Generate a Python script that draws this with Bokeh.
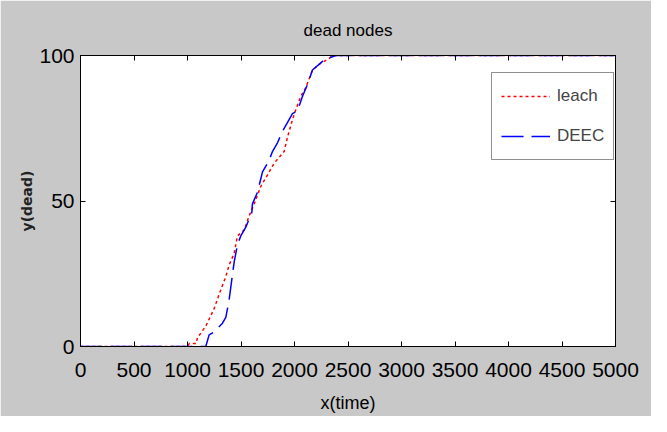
from bokeh.plotting import figure
from bokeh.models import LinearAxis, FixedTicker, Legend, LegendItem, Range1d
from bokeh.embed import file_html
from bokeh.resources import INLINE

# data
leach_x = [0, 1000, 1016, 1080, 1093, 1171, 1249, 1296, 1358, 1389, 1436, 1467, 1530,
           1577, 1623, 1685, 1748, 1810, 1903, 1935, 1981, 2028, 2059, 2106, 2168,
           2231, 2324, 2355, 5000]
leach_y = [0, 0, 1, 1, 3, 7, 13, 18, 24, 28, 32, 38, 40, 45, 49, 55, 59, 63, 67, 72,
           78, 83, 86, 89, 95, 97, 99, 100, 100]
deec_x = [0, 1171, 1202, 1249, 1327, 1358, 1389, 1414, 1436, 1467, 1498, 1545, 1601,
          1607, 1654, 1701, 1763, 1794, 1841, 1888, 1935, 1981, 2028, 2075, 2121,
          2168, 2262, 2308, 2386, 2400, 5000]
deec_y = [0, 0, 4, 5, 8, 10, 16, 23, 29, 35, 38, 41, 46, 49, 53, 60, 64, 67, 70, 74,
          77, 80, 81, 86, 90, 95, 98, 99, 100, 100, 100]
x_ticks = [0, 500, 1000, 1500, 2000, 2500, 3000, 3500, 4000, 4500, 5000]
y_ticks = [0, 50, 100]

FONT = "Liberation Sans"
GRAY = "#c8c8c8"

p = figure(width=651, height=416, output_backend="svg", toolbar_location=None,
           x_range=Range1d(0, 5000), y_range=Range1d(0, 100),
           min_border_left=80, min_border_right=36, min_border_top=55,
           min_border_bottom=70, background_fill_color="white",
           border_fill_color=GRAY, outline_line_color="black", outline_line_width=1)
p.grid.visible = False

p.title.text = "dead nodes"
p.title.align = "center"
p.title.text_font = FONT
p.title.text_font_size = "17px"
p.title.text_font_style = "normal"
p.title.text_color = "black"
p.title.standoff = 31

for ax in (p.xaxis[0], p.yaxis[0]):
    ax.major_tick_in = 5
    ax.major_tick_out = 0
    ax.minor_tick_line_color = None
    ax.axis_line_color = "black"
    ax.major_label_text_font = FONT
    ax.major_label_text_font_size = "21px"
    ax.major_label_text_color = "black"

p.xaxis[0].ticker = FixedTicker(ticks=x_ticks)
p.yaxis[0].ticker = FixedTicker(ticks=y_ticks)
p.xaxis[0].major_label_standoff = 16
p.yaxis[0].major_label_standoff = 6
p.xaxis[0].axis_label = "x(time)"
p.xaxis[0].axis_label_text_font = FONT
p.xaxis[0].axis_label_text_font_size = "18px"
p.xaxis[0].axis_label_text_font_style = "normal"
p.xaxis[0].axis_label_text_color = "black"
p.xaxis[0].axis_label_standoff = 13
p.yaxis[0].axis_label = "y(dead)"
p.yaxis[0].axis_label_text_font = "DejaVu Sans"
p.yaxis[0].axis_label_text_font_size = "14px"
p.yaxis[0].axis_label_text_font_style = "bold"
p.yaxis[0].axis_label_text_color = "#222222"
p.yaxis[0].axis_label_standoff = 1

top = LinearAxis(ticker=FixedTicker(ticks=x_ticks), major_tick_in=5, major_tick_out=0,
                 minor_tick_line_color=None, major_label_text_font_size="1px",
                 major_label_text_color=None, axis_line_color="black")
right = LinearAxis(ticker=FixedTicker(ticks=y_ticks), major_tick_in=5, major_tick_out=0,
                   minor_tick_line_color=None, major_label_text_font_size="1px",
                   major_label_text_color=None, axis_line_color="black")
p.add_layout(top, "above")
p.add_layout(right, "right")

r_leach = p.line(leach_x, leach_y, line_color="red", line_width=1.5, line_dash="3 3")
r_deec = p.line(deec_x, deec_y, line_color="blue", line_width=1.5, line_dash="22 8")

legend = Legend(items=[LegendItem(label="leach", renderers=[r_leach]),
                       LegendItem(label="DEEC", renderers=[r_deec])],
                location=(411, 186), border_line_color="#222222", border_line_width=1.5,
                label_text_font=FONT, label_text_font_size="17px",
                glyph_width=49, glyph_height=28, label_height=28, spacing=12,
                padding=9, label_standoff=7, margin=0, background_fill_color="white")
p.add_layout(legend)

open("out.html", "w").write(file_html(p, INLINE))
